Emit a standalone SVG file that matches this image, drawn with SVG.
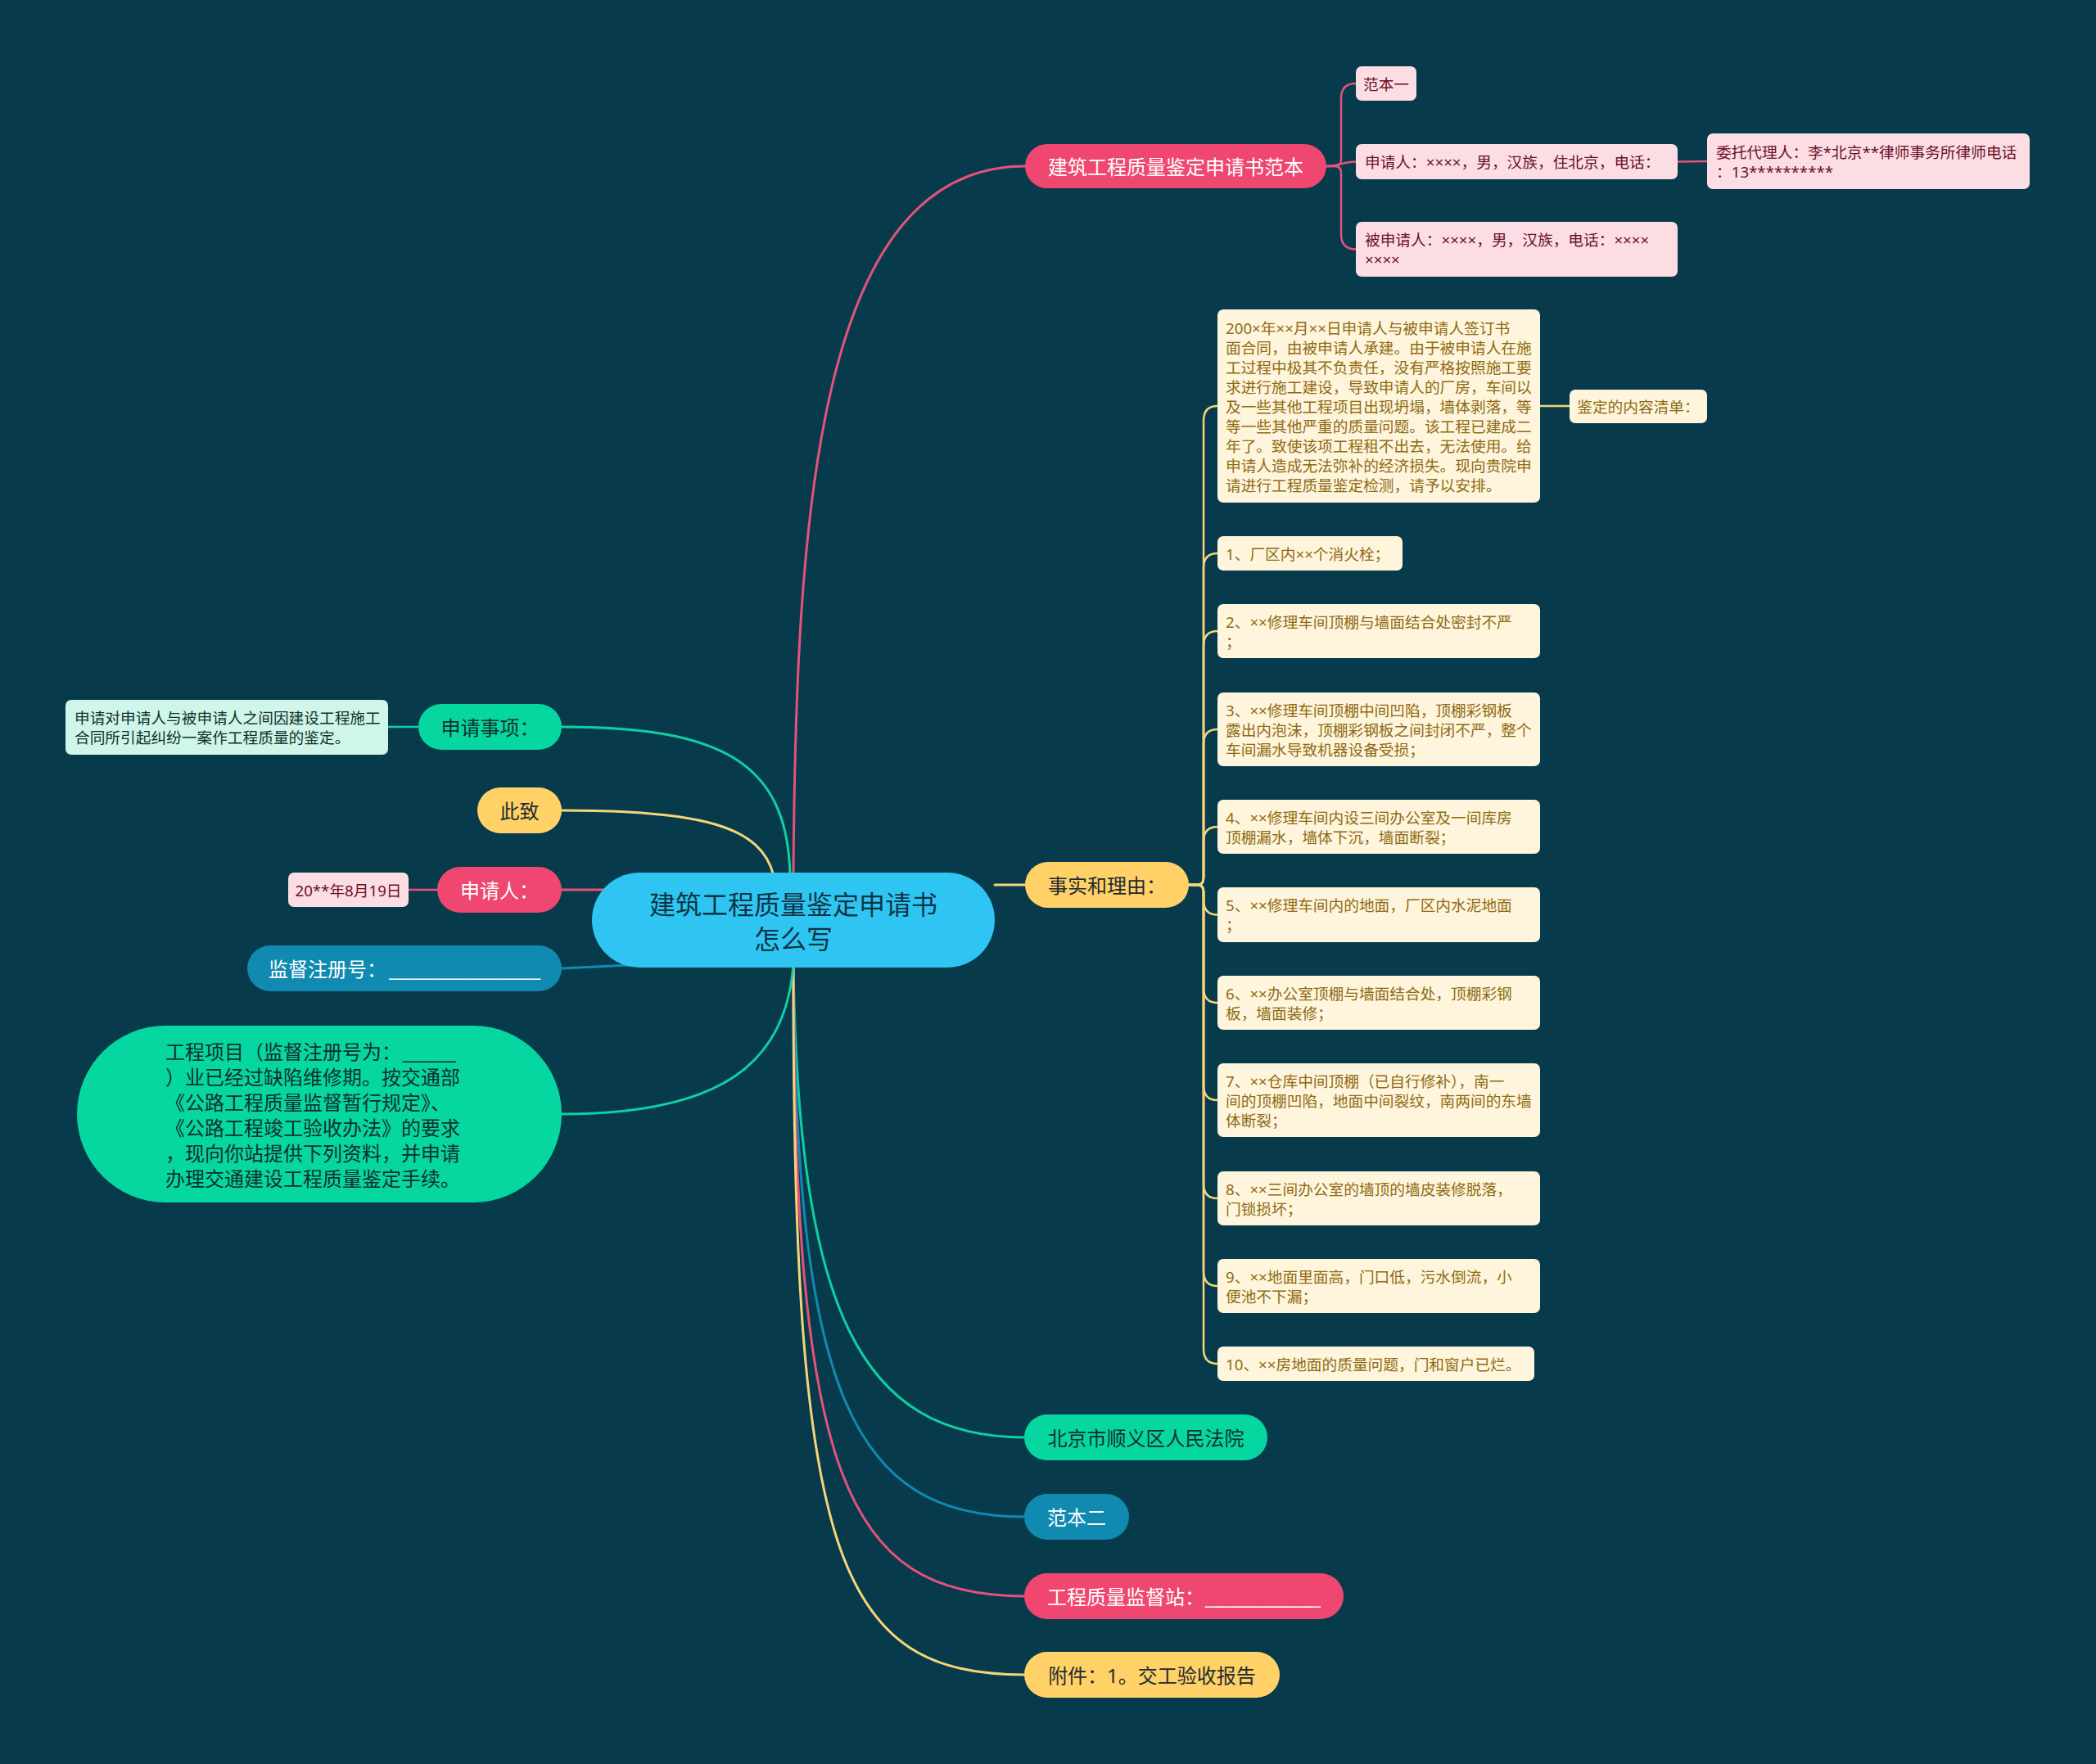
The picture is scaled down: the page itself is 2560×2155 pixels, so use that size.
<svg xmlns="http://www.w3.org/2000/svg" width="2560" height="2155" viewBox="0 0 2560 2155">
<style>
text{font-family:"Noto Sans","Noto Sans CJK SC",sans-serif;dominant-baseline:central}
.c{fill:none;stroke-width:3;stroke-linecap:round}
.s{fill:none;stroke-width:2.5;stroke-linecap:round}
.pk{stroke:#e5527a}.yl{stroke:#f6d479}.gr{stroke:#10cfa0}.bl{stroke:#118ab2}
.m{font-size:24px;text-anchor:middle}
.ms{font-size:24px}
.n{font-size:18.7px}
.nm{font-size:18.7px;text-anchor:middle}
.fpk{fill:#ef476f}.fyl{fill:#ffd166}.fgr{fill:#06d6a0}.fbl{fill:#118ab2}
.spk{fill:#fcdde4}.syl{fill:#fef5dc}.sgr{fill:#d0f6ea}
.tw{fill:#ffffff}.td{fill:#1d2b30}.tpk{fill:#6a1028}.tyl{fill:#8f6a12}.tgr{fill:#10302b}
</style>
<rect width="2560" height="2155" fill="#073b4c"/>

<g id="connectors">
  <path class="c pk" d="M969 1070 C972 620 1000 203 1252 203"/>
  <path class="c yl" d="M1215 1081 L1252 1081"/>
  <path class="c gr" d="M969 1178 C975 1600 1050 1756 1252 1756"/>
  <path class="c bl" d="M969 1178 C972 1700 1040 1853 1252 1853"/>
  <path class="c pk" d="M969 1178 C970 1800 1030 1950 1252 1950"/>
  <path class="c yl" d="M969 1178 C968 1900 1020 2046 1252 2046"/>
  <path class="c gr" d="M965 1070 C962 930 880 888 686 888"/>
  <path class="c yl" d="M945 1070 C930 1010 860 990 686 990"/>
  <path class="c pk" d="M686 1087 L745 1087"/>
  <path class="c bl" d="M686 1183 L770 1179"/>
  <path class="c gr" d="M969 1178 C960 1300 880 1361 686 1361"/>
  <path class="s pk" d="M1620 203 H1630 Q1638 203 1638 195 V120 Q1638 102 1656 102"/>
  <path class="s pk" d="M1620 203 C1638 203 1638 197.5 1656 197.5"/>
  <path class="s pk" d="M1620 203 H1630 Q1638 203 1638 211 V286 Q1638 304.5 1656 304.5"/>
  <path class="s pk" d="M2049 197.5 L2085 197"/>
  <path class="s gr" d="M474 888 L511 888"/>
  <path class="s pk" d="M499 1087 L534 1087"/>
  <path class="s yl" d="M1452 1081 H1462 Q1470 1081 1470 1073 V514 Q1470 496 1487 496"/>
  <path class="s yl" d="M1881 496 L1917 496"/>
  <path class="s yl" d="M1452 1081 H1462 Q1470 1081 1470 1073 V694 Q1470 676 1487 676"/>
  <path class="s yl" d="M1452 1081 H1462 Q1470 1081 1470 1073 V789 Q1470 771 1487 771"/>
  <path class="s yl" d="M1452 1081 H1462 Q1470 1081 1470 1073 V909 Q1470 891 1487 891"/>
  <path class="s yl" d="M1452 1081 H1462 Q1470 1081 1470 1073 V1028 Q1470 1010 1487 1010"/>
  <path class="s yl" d="M1452 1081 H1462 Q1470 1081 1470 1089 V1099.5 Q1470 1117.5 1487 1117.5"/>
  <path class="s yl" d="M1452 1081 H1462 Q1470 1081 1470 1089 V1207 Q1470 1225 1487 1225"/>
  <path class="s yl" d="M1452 1081 H1462 Q1470 1081 1470 1089 V1326 Q1470 1344 1487 1344"/>
  <path class="s yl" d="M1452 1081 H1462 Q1470 1081 1470 1089 V1446 Q1470 1464 1487 1464"/>
  <path class="s yl" d="M1452 1081 H1462 Q1470 1081 1470 1089 V1553 Q1470 1571 1487 1571"/>
  <path class="s yl" d="M1452 1081 H1462 Q1470 1081 1470 1089 V1648 Q1470 1666 1487 1666"/>
</g>

<g id="center">
  <rect x="723" y="1066" width="492" height="116" rx="58" fill="#2fc5f3"/>
  <text x="969" y="1104" font-size="32" text-anchor="middle" fill="#0d3444">建筑工程质量鉴定申请书</text>
  <text x="969" y="1146" font-size="32" text-anchor="middle" fill="#0d3444">怎么写</text>
</g>

<g id="fanben">
  <rect class="fpk" x="1252" y="176" width="368" height="54" rx="27"/>
  <text class="m tw" x="1436" y="203">建筑工程质量鉴定申请书范本</text>
</g>
<g id="fanben1">
  <rect class="spk" x="1656" y="81" width="74" height="42" rx="7"/>
  <text class="nm tpk" x="1693" y="102">范本一</text>
</g>
<g id="shenqingren-info">
  <rect class="spk" x="1656" y="176" width="393" height="43" rx="7"/>
  <text class="n tpk" x="1667" y="197.5">申请人：××××，男，汉族，住北京，电话：</text>
</g>
<g id="weituo">
  <rect class="spk" x="2085" y="163" width="394" height="68" rx="7"/>
  <text class="n tpk" x="2096" y="185">委托代理人：李*北京**律师事务所律师电话</text>
  <text class="n tpk" x="2096" y="209">：13**********</text>
</g>
<g id="beishenqingren">
  <rect class="spk" x="1656" y="271" width="393" height="67" rx="7"/>
  <text class="n tpk" x="1667" y="292.5">被申请人：××××，男，汉族，电话：××××</text>
  <text class="n tpk" x="1667" y="316.5">××××</text>
</g>

<g id="shishi">
  <rect class="fyl" x="1252" y="1053" width="200" height="56" rx="28"/>
  <text class="m td" x="1352" y="1081">事实和理由：</text>
</g>
<g id="paragraph">
  <rect class="syl" x="1487" y="378" width="394" height="236" rx="7"/>
  <text class="n tyl" x="1497" y="400">200×年××月××日申请人与被申请人签订书</text>
  <text class="n tyl" x="1497" y="424.1">面合同，由被申请人承建。由于被申请人在施</text>
  <text class="n tyl" x="1497" y="448.2">工过程中极其不负责任，没有严格按照施工要</text>
  <text class="n tyl" x="1497" y="472.3">求进行施工建设，导致申请人的厂房，车间以</text>
  <text class="n tyl" x="1497" y="496.4">及一些其他工程项目出现坍塌，墙体剥落，等</text>
  <text class="n tyl" x="1497" y="520.5">等一些其他严重的质量问题。该工程已建成二</text>
  <text class="n tyl" x="1497" y="544.6">年了。致使该项工程租不出去，无法使用。给</text>
  <text class="n tyl" x="1497" y="568.7">申请人造成无法弥补的经济损失。现向贵院申</text>
  <text class="n tyl" x="1497" y="592.8">请进行工程质量鉴定检测，请予以安排。</text>
</g>
<g id="qingdan">
  <rect class="syl" x="1917" y="476" width="168" height="41" rx="7"/>
  <text class="nm tyl" x="2001" y="496.5">鉴定的内容清单：</text>
</g>
<g id="item1">
  <rect class="syl" x="1487" y="655" width="226" height="42" rx="7"/>
  <text class="n tyl" x="1497" y="676">1、厂区内××个消火栓；</text>
</g>
<g id="item2">
  <rect class="syl" x="1487" y="738" width="394" height="66" rx="7"/>
  <text class="n tyl" x="1497" y="759">2、××修理车间顶棚与墙面结合处密封不严</text>
  <text class="n tyl" x="1497" y="783">；</text>
</g>
<g id="item3">
  <rect class="syl" x="1487" y="846" width="394" height="90" rx="7"/>
  <text class="n tyl" x="1497" y="867">3、××修理车间顶棚中间凹陷，顶棚彩钢板</text>
  <text class="n tyl" x="1497" y="891">露出内泡沫，顶棚彩钢板之间封闭不严，整个</text>
  <text class="n tyl" x="1497" y="915">车间漏水导致机器设备受损；</text>
</g>
<g id="item4">
  <rect class="syl" x="1487" y="977" width="394" height="66" rx="7"/>
  <text class="n tyl" x="1497" y="998">4、××修理车间内设三间办公室及一间库房</text>
  <text class="n tyl" x="1497" y="1022">顶棚漏水，墙体下沉，墙面断裂；</text>
</g>
<g id="item5">
  <rect class="syl" x="1487" y="1084" width="394" height="67" rx="7"/>
  <text class="n tyl" x="1497" y="1105.5">5、××修理车间内的地面，厂区内水泥地面</text>
  <text class="n tyl" x="1497" y="1129.5">；</text>
</g>
<g id="item6">
  <rect class="syl" x="1487" y="1192" width="394" height="66" rx="7"/>
  <text class="n tyl" x="1497" y="1213">6、××办公室顶棚与墙面结合处，顶棚彩钢</text>
  <text class="n tyl" x="1497" y="1237">板，墙面装修；</text>
</g>
<g id="item7">
  <rect class="syl" x="1487" y="1299" width="394" height="90" rx="7"/>
  <text class="n tyl" x="1497" y="1320">7、××仓库中间顶棚（已自行修补），南一</text>
  <text class="n tyl" x="1497" y="1344">间的顶棚凹陷，地面中间裂纹，南两间的东墙</text>
  <text class="n tyl" x="1497" y="1368">体断裂；</text>
</g>
<g id="item8">
  <rect class="syl" x="1487" y="1431" width="394" height="66" rx="7"/>
  <text class="n tyl" x="1497" y="1452">8、××三间办公室的墙顶的墙皮装修脱落，</text>
  <text class="n tyl" x="1497" y="1476">门锁损坏；</text>
</g>
<g id="item9">
  <rect class="syl" x="1487" y="1538" width="394" height="66" rx="7"/>
  <text class="n tyl" x="1497" y="1559">9、××地面里面高，门口低，污水倒流，小</text>
  <text class="n tyl" x="1497" y="1583">便池不下漏；</text>
</g>
<g id="item10">
  <rect class="syl" x="1487" y="1645" width="387" height="42" rx="7"/>
  <text class="n tyl" x="1497" y="1666">10、××房地面的质量问题，门和窗户已烂。</text>
</g>

<g id="fayuan">
  <rect class="fgr" x="1251" y="1728" width="297" height="56" rx="28"/>
  <text class="m tgr" x="1399.5" y="1756">北京市顺义区人民法院</text>
</g>
<g id="fanben2">
  <rect class="fbl" x="1251" y="1825" width="128" height="56" rx="28"/>
  <text class="m tw" x="1315" y="1853">范本二</text>
</g>
<g id="jianduzhan">
  <rect class="fpk" x="1251" y="1922" width="390" height="56" rx="28"/>
  <text class="ms tw" x="1279" y="1950">工程质量监督站：<tspan x="1472" textLength="141" lengthAdjust="spacingAndGlyphs">____________</tspan></text>
</g>
<g id="fujian">
  <rect class="fyl" x="1251" y="2018" width="312" height="56" rx="28"/>
  <text class="m td" x="1407" y="2046">附件：1。交工验收报告</text>
</g>

<g id="shenqingshixiang">
  <rect class="fgr" x="511" y="860" width="175" height="56" rx="28"/>
  <text class="m tgr" x="598.5" y="888">申请事项：</text>
</g>
<g id="shixiang-detail">
  <rect class="sgr" x="80" y="855" width="394" height="67" rx="7"/>
  <text class="n tgr" x="91" y="876.5">申请对申请人与被申请人之间因建设工程施工</text>
  <text class="n tgr" x="91" y="900.5">合同所引起纠纷一案作工程质量的鉴定。</text>
</g>
<g id="cizhi">
  <rect class="fyl" x="583" y="962" width="103" height="56" rx="28"/>
  <text class="m td" x="634.5" y="990">此致</text>
</g>
<g id="shenqingren">
  <rect class="fpk" x="534" y="1059" width="152" height="56" rx="28"/>
  <text class="m tw" x="610" y="1087">申请人：</text>
</g>
<g id="riqi">
  <rect class="spk" x="352" y="1066" width="147" height="42" rx="7"/>
  <text class="nm tpk" x="425.5" y="1087">20**年8月19日</text>
</g>
<g id="jianduhao">
  <rect class="fbl" x="302" y="1155" width="384" height="56" rx="28"/>
  <text class="ms tw" x="328" y="1183">监督注册号：<tspan x="475" textLength="185" lengthAdjust="spacingAndGlyphs">_______________</tspan></text>
</g>
<g id="gongchengxiangmu">
  <rect class="fgr" x="94" y="1253" width="592" height="216" rx="108"/>
  <text class="ms tgr" x="202" y="1284">工程项目（监督注册号为：<tspan x="492" textLength="65" lengthAdjust="spacingAndGlyphs">_____</tspan></text>
  <text class="ms tgr" x="202" y="1315">）业已经过缺陷维修期。按交通部</text>
  <text class="ms tgr" x="202" y="1346">《公路工程质量监督暂行规定》、</text>
  <text class="ms tgr" x="202" y="1377">《公路工程竣工验收办法》的要求</text>
  <text class="ms tgr" x="202" y="1408">，现向你站提供下列资料，并申请</text>
  <text class="ms tgr" x="202" y="1439">办理交通建设工程质量鉴定手续。</text>
</g>
</svg>
